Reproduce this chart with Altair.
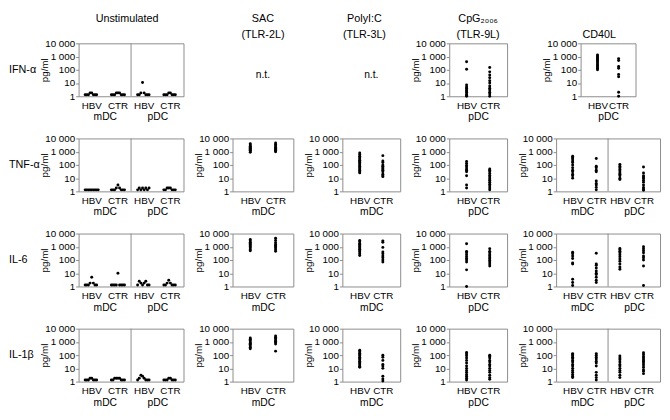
import altair as alt
import pandas as pd

FONT = "Liberation Sans, Arial, DejaVu Sans"
INK = "black"
FRAME = "#8c8c8c"

# ---------------- categories / labels ----------------
groups = ["HBV", "CTR"]
cells = ["mDC", "pDC"]
cytokines = ["IFN-α", "TNF-α", "IL-6", "IL-1β"]
title_uns = ["Unstimulated", " "]
title_sac = ["SAC", "(TLR-2L)"]
title_pic = ["PolyI:C", "(TLR-3L)"]
title_cpg = ["CpG₂₀₀₆", "(TLR-9L)"]
title_cd40 = [" ", "CD40L"]
nt_label = "n.t."
y_ticks = [1, 10, 100, 1000, 10000]
cell_split = [1]          # boundary between the mDC and pDC halves
cell_centres = [0.5, 1.5]

# ---------------- values (pg/ml) ----------------
# IFN-alpha
ifn_uns_mdc_hbv = [1.3, 1.3, 1.3, 1.8, 1.8, 1.3, 1.3, 1.3]
ifn_uns_mdc_ctr = [1.3, 1.3, 1.3, 1.8, 1.8, 1.8, 1.3, 1.3, 1.3]
ifn_uns_pdc_hbv = [1.3, 1.3, 1.8, 11, 1.8, 1.3, 1.3, 1.3]
ifn_uns_pdc_ctr = [1.3, 1.3, 1.3, 1.8, 1.8, 1.3, 1.3, 1.3]
ifn_cpg_pdc_hbv = [400, 110, 7, 5, 4, 3, 2.5, 2, 1.5, 1.2, 1]
ifn_cpg_pdc_ctr = [150, 70, 40, 25, 15, 10, 6, 4, 3, 2, 1.5, 1]
ifn_cd40_pdc_hbv = [1300, 1100, 900, 750, 600, 500, 400, 320, 250, 200, 160, 130, 100]
ifn_cd40_pdc_ctr = [700, 500, 180, 130, 45, 30, 2, 1]

# TNF-alpha
tnf_uns_mdc_hbv = [1.3, 1.3, 1.3, 1.3, 1.3, 1.3, 1.3, 1.3, 1.3]
tnf_uns_mdc_ctr = [1.3, 1.3, 1.3, 1.8, 3, 1.8, 1.3, 1.3, 1.3]
tnf_uns_pdc_hbv = [1.3, 1.8, 1.3, 1.8, 1.3, 1.8, 1.3, 1.8]
tnf_uns_pdc_ctr = [1.3, 1.3, 1.8, 1.8, 1.8, 1.3, 1.3, 1.3]
tnf_sac_mdc_hbv = [4000, 3200, 2600, 2200, 1800, 1500, 1300, 1100, 900]
tnf_sac_mdc_ctr = [4500, 3500, 2800, 2200, 1800, 1500, 1300, 1100, 1000]
tnf_pic_mdc_hbv = [800, 600, 450, 350, 280, 220, 180, 150, 120, 100, 80, 60, 50, 40, 30, 25]
tnf_pic_mdc_ctr = [500, 200, 150, 100, 80, 60, 50, 40, 30, 20, 15, 13]
tnf_cpg_pdc_hbv = [180, 130, 90, 70, 50, 40, 30, 15, 3, 1.8]
tnf_cpg_pdc_ctr = [50, 40, 30, 22, 16, 12, 9, 7, 5, 3.5, 2.5, 1.8, 1.3]
tnf_cd40_mdc_hbv = [450, 350, 280, 200, 150, 100, 60, 40, 30, 20, 15, 10]
tnf_cd40_mdc_ctr = [300, 80, 60, 40, 30, 6, 4, 3, 2, 1.3]
tnf_cd40_pdc_hbv = [110, 80, 60, 45, 35, 25, 20, 15, 10, 8]
tnf_cd40_pdc_ctr = [70, 25, 15, 12, 10, 7, 5, 3, 2, 1.5, 1.2]

# IL-6
il6_uns_mdc_hbv = [1.3, 1.3, 1.3, 1.8, 5, 1.8, 1.3, 1.3]
il6_uns_mdc_ctr = [1.3, 1.3, 1.3, 1.3, 10, 1.3, 1.3, 1.3, 1.3]
il6_uns_pdc_hbv = [1.3, 2.5, 1.8, 1.3, 1.8, 2.5, 1.3, 1.3]
il6_uns_pdc_ctr = [1.3, 1.3, 1.8, 3, 1.8, 1.3, 1.3, 1.3]
il6_sac_mdc_hbv = [3500, 2800, 2200, 1800, 1500, 1200, 1000, 800, 600, 500]
il6_sac_mdc_ctr = [4500, 3000, 2000, 1500, 1200, 1000, 800, 600, 450]
il6_pic_mdc_hbv = [3000, 2400, 1800, 1500, 1200, 1000, 800, 650, 500, 400, 300, 220]
il6_pic_mdc_ctr = [2800, 2200, 900, 400, 300, 200, 150, 100, 70]
il6_cpg_pdc_hbv = [1700, 450, 350, 250, 180, 130, 100, 70, 18, 1]
il6_cpg_pdc_ctr = [700, 450, 350, 250, 200, 150, 120, 90, 70, 50, 35]
il6_cd40_mdc_hbv = [380, 300, 200, 130, 60, 50, 3.5, 2, 1.2]
il6_cd40_mdc_ctr = [320, 50, 40, 25, 15, 10, 8, 5, 3, 2]
il6_cd40_pdc_hbv = [750, 600, 450, 350, 250, 180, 120, 80, 50, 30, 20]
il6_cd40_pdc_ctr = [1000, 700, 500, 350, 200, 150, 100, 35, 1.2]

# IL-1beta
il1b_uns_mdc_hbv = [1.3, 1.3, 1.3, 1.8, 1.8, 1.3, 1.3, 1.3]
il1b_uns_mdc_ctr = [1.3, 1.3, 1.8, 1.8, 1.8, 1.8, 1.3, 1.3, 1.3]
il1b_uns_pdc_hbv = [1.3, 1.8, 3, 2.5, 1.8, 1.3, 1.3, 1.3]
il1b_uns_pdc_ctr = [1.3, 1.3, 1.3, 1.8, 1.8, 1.3, 1.3, 1.3]
il1b_sac_mdc_hbv = [2000, 1600, 1300, 1000, 800, 650, 500, 400, 300]
il1b_sac_mdc_ctr = [2800, 2200, 1800, 1400, 1100, 900, 700, 200]
il1b_pic_mdc_hbv = [230, 180, 140, 110, 90, 70, 55, 45, 35, 28, 22, 18, 14, 12]
il1b_pic_mdc_ctr = [100, 70, 40, 20, 15, 10, 2.5, 1.6, 1.1]
il1b_cpg_pdc_hbv = [160, 120, 90, 60, 40, 25, 15, 10, 7, 5, 3.5, 2.5, 1.8, 1.3]
il1b_cpg_pdc_ctr = [100, 80, 60, 40, 30, 20, 15, 10, 7, 5, 3, 2, 1.5]
il1b_cd40_mdc_hbv = [130, 110, 90, 70, 55, 40, 30, 20, 15, 10, 7, 5, 3.5, 2.5, 2]
il1b_cd40_mdc_ctr = [130, 100, 70, 50, 35, 25, 15, 5, 3, 2, 1.3]
il1b_cd40_pdc_hbv = [85, 60, 45, 30, 20, 15, 10, 7, 5, 3, 2]
il1b_cd40_pdc_ctr = [150, 110, 80, 60, 45, 35, 25, 18, 12, 8, 6, 4]

# ---------------- layout ----------------
H = 54
W_UNS, W_SAC, W_PIC, W_CPG, W_CD40, W_CD40_PDC = 107, 62, 59, 59, 106, 56
ROW_GAP = 43
COL_GAP = 8
LBL = 10
TITLE_OFFSET = -13


def frame(pairs):
    rows = []
    for slot, vals in pairs:
        for k, v in enumerate(vals):
            rows.append({"slot": slot, "k": k, "value": v})
    return pd.DataFrame(rows)


def y_enc():
    return alt.Y(
        "value:Q",
        scale=alt.Scale(type="log", domain=[1, 10000], nice=False),
        axis=alt.Axis(
            values=y_ticks,
            labelExpr="replace(format(datum.value, ','), ',', ' ')",
            title="pg/ml", titlePadding=-5, titleFontSize=10, titleFontWeight="normal",
            labelFontSize=10, labelPadding=1, tickSize=3, tickColor=FRAME,
            domain=False, grid=False,
        ),
    )


def header(lines, offset=TITLE_OFFSET, dx=0):
    return alt.Title(lines, offset=offset, dx=dx, frame="group", anchor="middle",
                     baseline="bottom", lineHeight=17, fontSize=11, font=FONT,
                     fontWeight="normal", color=INK)


def dots(df, slots, scale, axis, jitter):
    enc = {"x": alt.X("slot:N", sort=slots, scale=scale, axis=axis), "y": y_enc()}
    if jitter:
        enc["xOffset"] = alt.XOffset("k:O", scale=alt.Scale(paddingInner=0, paddingOuter=0))
    return alt.Chart(df).mark_circle(size=9, color=INK, opacity=1).encode(**enc)


GROUP_LABEL = "split(datum.label, ' ')[1]"


def pair_panel(cell, hbv, ctr, width, padding=0.75, title=None):
    slots = [f"{cell} {g}" for g in groups]
    axis = alt.Axis(title=cell, labelExpr=GROUP_LABEL, labelAngle=0, ticks=False, domain=False,
                    labelPadding=4, titlePadding=2, labelFontSize=LBL, titleFontSize=LBL + 0.5,
                    titleFontWeight="normal")
    ch = dots(frame(zip(slots, [hbv, ctr])), slots, alt.Scale(type="point", padding=padding),
              axis, False).properties(width=width, height=H)
    if title is not None:
        ch = ch.properties(title=title)
    return ch


def split_panel(series, width, jitter, row_label=None, title=None):
    slots = [f"{c} {g}" for c in cells for g in groups]
    if jitter:
        scale = alt.Scale(type="band", paddingInner=0.5, paddingOuter=0.25)
    else:
        scale = alt.Scale(type="point", padding=0.7)
    axis = alt.Axis(title=None, labelExpr=GROUP_LABEL, labelAngle=0, ticks=False, domain=False,
                    labelPadding=4, labelFontSize=LBL)
    pts = dots(frame(zip(slots, series)), slots, scale, axis, jitter)
    cell_expr = f"datum.value < 1 ? '{cells[0]}' : '{cells[1]}'"
    divider = alt.Chart(pd.DataFrame({"pos": cell_split})).mark_rule(
        color=FRAME, strokeWidth=1).encode(
        x=alt.X("pos:Q", scale=alt.Scale(domain=[0, 2], nice=False, zero=False),
                axis=alt.Axis(values=cell_centres, labelExpr=cell_expr, orient="bottom",
                              ticks=False, domain=False, grid=False, labelPadding=16,
                              labelFontSize=LBL + 0.5, labelFlush=False, title=None)))
    layers = [pts, divider]
    if row_label is not None:
        layers.append(
            alt.Chart(pd.DataFrame({"label": [row_label]})).mark_text(
                align="left", baseline="middle", font=FONT, fontSize=11, color=INK
            ).encode(text="label:N", x=alt.value(-71))
        )
    ch = alt.layer(*layers).resolve_scale(x="independent").properties(width=width, height=H)
    if title is not None:
        ch = ch.properties(title=title)
    return ch


def nt_panel(width, title):
    return alt.Chart(pd.DataFrame({"label": [nt_label]})).mark_text(
        font=FONT, fontSize=10.5, color=INK, dy=5
    ).encode(text="label:N").properties(
        width=width, height=H, view=alt.ViewBackground(stroke="transparent"), title=title)


col_uns = alt.vconcat(
    split_panel([ifn_uns_mdc_hbv, ifn_uns_mdc_ctr, ifn_uns_pdc_hbv, ifn_uns_pdc_ctr], W_UNS, True,
                row_label=cytokines[0], title=header(title_uns, dx=-4)),
    split_panel([tnf_uns_mdc_hbv, tnf_uns_mdc_ctr, tnf_uns_pdc_hbv, tnf_uns_pdc_ctr], W_UNS, True,
                row_label=cytokines[1]),
    split_panel([il6_uns_mdc_hbv, il6_uns_mdc_ctr, il6_uns_pdc_hbv, il6_uns_pdc_ctr], W_UNS, True,
                row_label=cytokines[2]),
    split_panel([il1b_uns_mdc_hbv, il1b_uns_mdc_ctr, il1b_uns_pdc_hbv, il1b_uns_pdc_ctr], W_UNS, True,
                row_label=cytokines[3]),
    spacing=ROW_GAP, bounds="flush",
)

col_sac = alt.vconcat(
    nt_panel(W_SAC, header(title_sac, offset=TITLE_OFFSET + 5)),
    pair_panel("mDC", tnf_sac_mdc_hbv, tnf_sac_mdc_ctr, W_SAC, 0.7),
    pair_panel("mDC", il6_sac_mdc_hbv, il6_sac_mdc_ctr, W_SAC, 0.7),
    pair_panel("mDC", il1b_sac_mdc_hbv, il1b_sac_mdc_ctr, W_SAC, 0.7),
    spacing=ROW_GAP, bounds="flush",
)

col_pic = alt.vconcat(
    nt_panel(W_PIC, header(title_pic, offset=TITLE_OFFSET + 5, dx=-7)),
    pair_panel("mDC", tnf_pic_mdc_hbv, tnf_pic_mdc_ctr, W_PIC),
    pair_panel("mDC", il6_pic_mdc_hbv, il6_pic_mdc_ctr, W_PIC),
    pair_panel("mDC", il1b_pic_mdc_hbv, il1b_pic_mdc_ctr, W_PIC),
    spacing=ROW_GAP, bounds="flush",
)

col_cpg = alt.vconcat(
    pair_panel("pDC", ifn_cpg_pdc_hbv, ifn_cpg_pdc_ctr, W_CPG, title=header(title_cpg)),
    pair_panel("pDC", tnf_cpg_pdc_hbv, tnf_cpg_pdc_ctr, W_CPG),
    pair_panel("pDC", il6_cpg_pdc_hbv, il6_cpg_pdc_ctr, W_CPG),
    pair_panel("pDC", il1b_cpg_pdc_hbv, il1b_cpg_pdc_ctr, W_CPG),
    spacing=ROW_GAP, bounds="flush",
)

col_cd40 = alt.vconcat(
    pair_panel("pDC", ifn_cd40_pdc_hbv, ifn_cd40_pdc_ctr, W_CD40_PDC, 0.8,
               title=header(title_cd40, dx=-9)),
    split_panel([tnf_cd40_mdc_hbv, tnf_cd40_mdc_ctr, tnf_cd40_pdc_hbv, tnf_cd40_pdc_ctr], W_CD40, False),
    split_panel([il6_cd40_mdc_hbv, il6_cd40_mdc_ctr, il6_cd40_pdc_hbv, il6_cd40_pdc_ctr], W_CD40, False),
    split_panel([il1b_cd40_mdc_hbv, il1b_cd40_mdc_ctr, il1b_cd40_pdc_hbv, il1b_cd40_pdc_ctr], W_CD40, False),
    spacing=ROW_GAP, bounds="flush", center=True,
)

chart = alt.hconcat(
    col_uns, col_sac, col_pic, col_cpg, col_cd40, spacing=COL_GAP
).properties(
    padding={"left": 0, "top": 0, "right": 1, "bottom": 1}
).configure_view(
    stroke=FRAME, strokeWidth=1
).configure_axis(
    labelFont=FONT, titleFont=FONT, labelColor=INK, titleColor=INK
).configure_title(
    font=FONT, fontWeight="normal", color=INK
)

chart.save("out.html", embed_options={"renderer": "svg", "actions": False})
